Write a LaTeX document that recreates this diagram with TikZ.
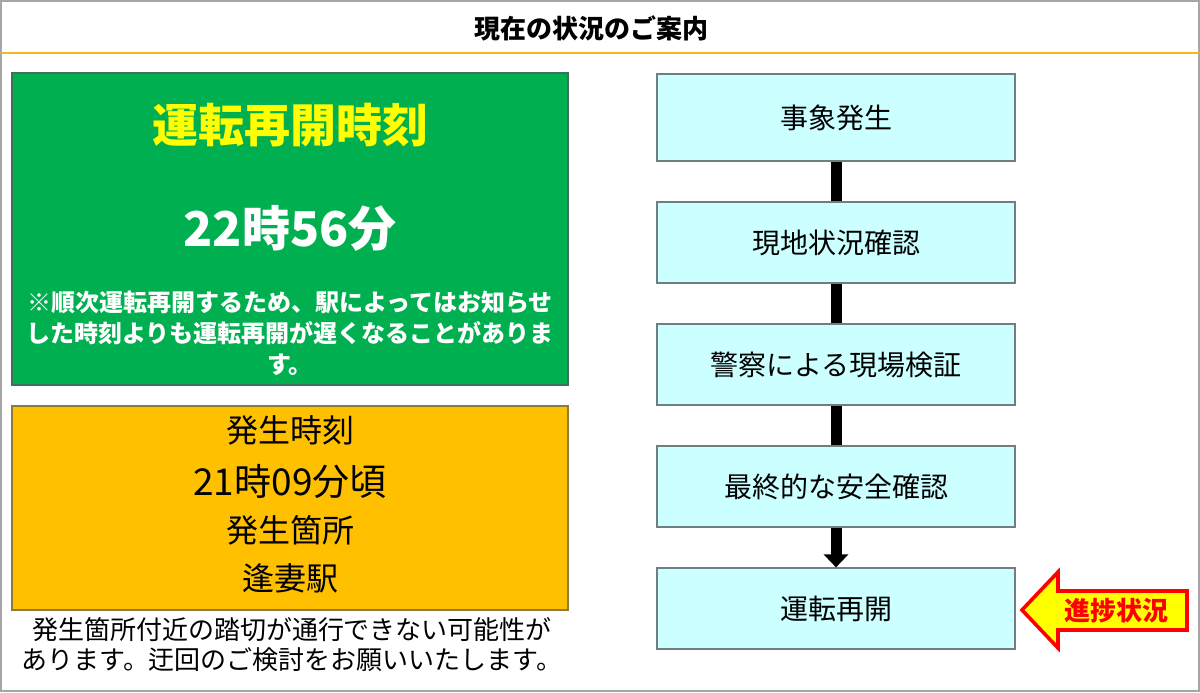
\documentclass[tikz,border=0pt]{standalone}
\usepackage{fontspec}
\setmainfont{Noto Sans CJK JP}
\usetikzlibrary{arrows.meta,positioning}

\definecolor{framegray}{HTML}{A6A6A6}
\definecolor{headline}{HTML}{F2B81C}
\definecolor{resumefill}{HTML}{00B050}
\definecolor{resumeline}{HTML}{41705A}
\definecolor{incidentfill}{HTML}{FFC000}
\definecolor{incidentline}{HTML}{8C7A3C}
\definecolor{stagefill}{HTML}{CCFFFF}
\definecolor{stageline}{HTML}{6F7F7F}
\definecolor{signyellow}{HTML}{FFFF00}
\definecolor{signred}{HTML}{FF0000}

\newcommand{\fsz}[1]{\fontsize{#1pt}{1.2\dimexpr#1pt\relax}\selectfont}

\begin{document}
\begin{tikzpicture}[x=0.5pt, y=-0.5pt, node distance=19.9pt,
    panel/.style={draw, line width=0.6pt, minimum width=278pt, inner sep=0pt},
    stage/.style={draw=stageline, fill=stagefill, line width=0.6pt,
      minimum width=179pt, minimum height=40.5pt, font=\fsz{14}},
    link/.style={line width=5.5pt}]
  \useasboundingbox (0,0) rectangle (1200,692);
  \draw[framegray, line width=1pt] (1,1) rectangle (1199,691);
  \draw[headline, line width=1.2pt] (1,53) -- (1199,53);
  \node[font=\bfseries\fsz{13}] (title) at (591,28) {現在の状況のご案内};

  % left panels
  \node[panel, draw=resumeline, fill=resumefill, minimum height=156pt] (resume) at (290,229) {};
  \node[text=signyellow, font=\bfseries\fsz{23}] (resumehead) at (290,125) {運転再開時刻};
  \node[text=white, font=\bfseries\fsz{24}] (resumetime) at (290,228) {22時56分};
  \node[text=white, font=\bfseries\fontsize{12pt}{15.5pt}\selectfont, align=center] (resumenote) at (290,333)
    {※順次運転再開するため、駅によってはお知らせ\\した時刻よりも運転再開が遅くなることがありま\\す。};

  \node[panel, draw=incidentline, fill=incidentfill, minimum height=102pt] (incident) at (290,508) {};
  \node[font=\fsz{16}] (timehead) at (290,430) {発生時刻};
  \node[font=\fsz{18.5}] (timeval) at (290,482) {21時09分頃};
  \node[font=\fsz{16}] (placehead) at (290,530) {発生箇所};
  \node[font=\fsz{16}] (placeval) at (290,578) {逢妻駅};
  \node[font=\fontsize{13pt}{15pt}\selectfont, align=center] (detour) at (292,645)
    {発生箇所付近の踏切が通行できない可能性が\\あります。迂回のご検討をお願いいたします。};

  % progress flow
  \node[stage, minimum height=43.5pt] (s1) at (836,117.5) {事象発生};
  \node[stage] (s2) [below=of s1] {現地状況確認};
  \node[stage] (s3) [below=of s2] {警察による現場検証};
  \node[stage] (s4) [below=of s3] {最終的な安全確認};
  \node[stage] (s5) [below=of s4] {運転再開};
  \draw[link] (s1) -- (s2);
  \draw[link] (s2) -- (s3);
  \draw[link] (s3) -- (s4);
  \draw[link, -{Triangle[width=12pt, length=6.5pt]}] (s4) -- (s5);

  % current stage marker
  \filldraw[draw=signred, fill=signyellow, line width=1.8pt, line join=miter]
    (1022,610) -- (1058,572) -- (1058,591) -- (1187,591) -- (1187,630)
    -- (1058,630) -- (1058,648) -- cycle;
  \node[text=signred, font=\bfseries\fsz{13}] (progress) at (1116,611) {進捗状況};
\end{tikzpicture}
\end{document}
